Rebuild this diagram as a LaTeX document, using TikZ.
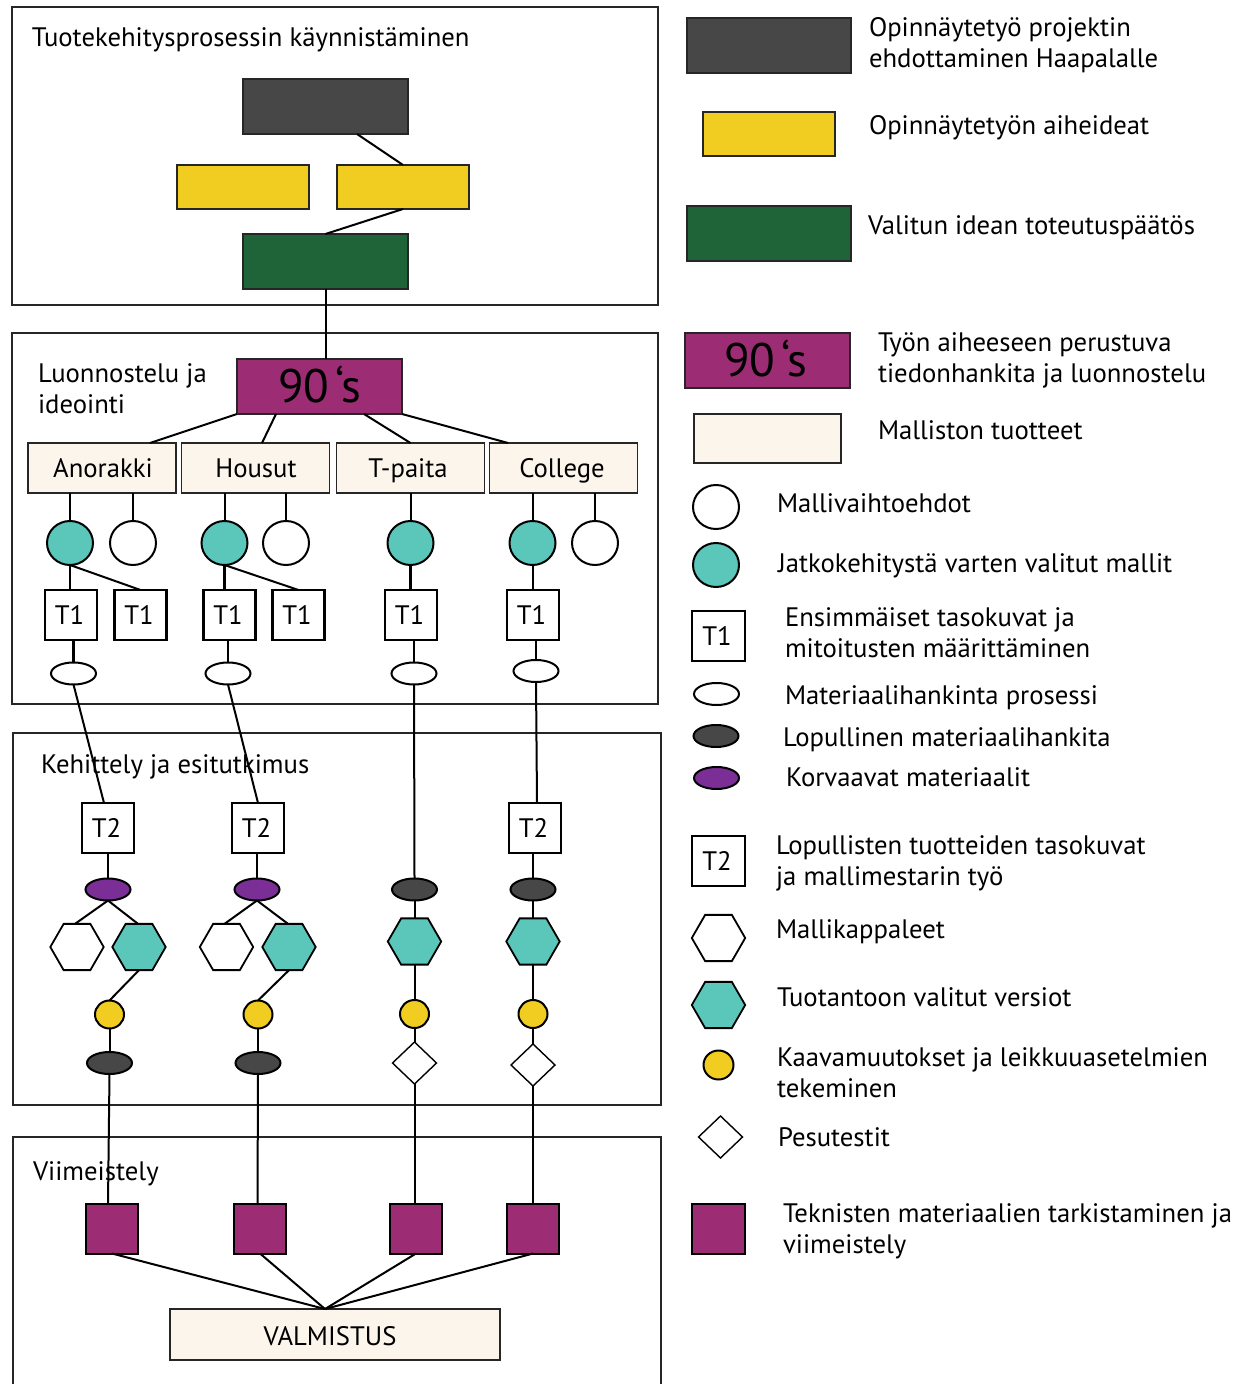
\documentclass[tikz,border=0pt]{standalone}
\usepackage{fontspec}
\setmainfont{PT Sans}
\usetikzlibrary{shapes.geometric}
\definecolor{cdark}{HTML}{474747}
\definecolor{cyel}{HTML}{F2CD21}
\definecolor{cgreen}{HTML}{1F6338}
\definecolor{cmag}{HTML}{9C2C73}
\definecolor{ccream}{HTML}{FCF5EC}
\definecolor{cteal}{HTML}{5AC7BA}
\definecolor{cpurp}{HTML}{7B2F96}
\tikzset{
 wh/.style 2 args={minimum width=#1*0.5pt,minimum height=#2*0.5pt},
 every node/.style={inner sep=0pt,outer sep=0pt},
 panel/.style={draw=black!85,line width=1pt,rectangle},
 bx/.style={draw=black!85,line width=0.8pt,rectangle},
 dbox/.style={bx,fill=cdark,wh={165}{55}},
 ybox/.style={bx,fill=cyel,wh={132}{44}},
 gbox/.style={bx,fill=cgreen,wh={165}{55}},
 mbox/.style={bx,fill=cmag,wh={165}{55}},
 cbox/.style={bx,fill=ccream,wh={148}{50},font=\lab},
 tbox/.style={draw=black,line width=1.4pt,fill=white,rectangle,wh={52}{50},font=\lab},
 sqm/.style={draw=black,line width=1pt,fill=cmag,rectangle,wh={52}{50}},
 circw/.style={draw=black,line width=1pt,ellipse,fill=white,wh={46}{44}},
 circt/.style={circw,fill=cteal},
 circy/.style={circw,fill=cyel,wh={29}{28}},
 ellw/.style={draw=black,line width=1pt,ellipse,fill=white,wh={45}{22}},
 elld/.style={ellw,fill=cdark},
 ellp/.style={ellw,fill=cpurp},
 hexw/.style={draw=black,line width=0.9pt,regular polygon,regular polygon sides=6,fill=white,minimum size=26.7pt},
 hext/.style={hexw,fill=cteal},
 diam/.style={draw=black,line width=0.7pt,diamond,fill=white,wh={44}{42}},
 lab/.style={anchor=base west,font=\lab},
 lab2/.style={anchor=base west,font=\lab,align=left},
 ctr/.style={anchor=base,font=\lab},
 big/.style={anchor=base,font=\fontsize{23.5}{26}\selectfont},
 conn/.style={draw=black,line width=1pt},
 conb/.style={draw=black,line width=1.4pt},
}
\newcommand{\lab}{\fontsize{13.35}{15.5}\selectfont}
\newcommand{\tl}[1]{#1\kern1.5pt}
\newcommand{\nineties}{90\kern0.13em ‘s}
\begin{document}
\begin{tikzpicture}[x=0.5pt,y=-0.5pt]
\clip (0,0) rectangle (1245,1384);
\fill[white] (0,0) rectangle (1245,1384);
% panels
\node[panel,wh={646}{298}] (p1) at (335,156) {};
\node[panel,wh={646}{371}] (p2) at (335,518.5) {};
\node[panel,wh={648}{372}] (p3) at (337,919) {};
\node[panel,wh={648}{270}] (p4) at (337,1272) {};
\node[lab] (tp1) at (32,47) {Tuotekehitysprosessin käynnistäminen};
\node[lab2] (tp2) at (38,414) {Luonnostelu ja\\ideointi};
\node[lab] (tp3) at (41,773) {Kehittely ja esitutkimus};
\node[lab] (tp4) at (33,1180) {Viimeistely};
% panel 1
\node[dbox] (a1) at (325.5,106.5) {};
\node[ybox] (a2) at (243,187) {};
\node[ybox] (a3) at (403,187) {};
\node[gbox] (a4) at (325.5,261.5) {};
% 90s
\node[mbox] (s0) at (319.5,386.5) {};
\node[big] (s0t) at (320,403) {\nineties};
% products
\node[cbox] (pa) at (102,468) {};
\node[cbox] (pb) at (255.5,468) {};
\node[cbox] (pc) at (410.5,468) {};
\node[cbox] (pd) at (563.5,468) {};
\node[ctr] (pat) at (103,478) {Anorakki};
\node[ctr] (pbt) at (256,478) {Housut};
\node[ctr] (pct) at (408,478) {T-paita};
\node[ctr] (pdt) at (562,478) {College};
% circles
\node[circt] (c1) at (70,543) {};
\node[circw] (c2) at (133,543) {};
\node[circt] (c3) at (224.5,543) {};
\node[circw] (c4) at (286,543) {};
\node[circt] (c5) at (410.5,543) {};
\node[circt] (c6) at (532.5,543) {};
\node[circw] (c7) at (595,543) {};
% T1
\node[tbox] (t1) at (71,615) {\tl{T1}};
\node[tbox] (t2) at (140.5,615) {\tl{T1}};
\node[tbox] (t3) at (229.5,615) {\tl{T1}};
\node[tbox] (t4) at (298.5,615) {\tl{T1}};
\node[tbox] (t5) at (411,615) {\tl{T1}};
\node[tbox] (t6) at (533,615) {\tl{T1}};
% ellipses
\node[ellw] (e1) at (73.5,673.5) {};
\node[ellw] (e2) at (228,673.5) {};
\node[ellw] (e3) at (414,673.5) {};
\node[ellw] (e4) at (536,671) {};
% T2
\node[tbox] (u1) at (108,828) {\tl{T2}};
\node[tbox] (u2) at (258,828) {\tl{T2}};
\node[tbox] (u4) at (535,828) {\tl{T2}};
% second row ellipses
\node[ellp] (f1) at (108,889.5) {};
\node[ellp] (f2) at (257,889.5) {};
\node[elld] (f3) at (414.5,889.5) {};
\node[elld] (f4) at (533,889.5) {};
% hexagons
\node[hexw] (h1) at (77,947) {};
\node[hext] (h2) at (139,947) {};
\node[hexw] (h3) at (226.5,947) {};
\node[hext] (h4) at (289,947) {};
\node[hext] (h5) at (414.5,941.5) {};
\node[hext] (h6) at (533,941.5) {};
% yellow
\node[circy] (y1) at (109.5,1014.5) {};
\node[circy] (y2) at (258,1014.5) {};
\node[circy] (y3) at (414.5,1014) {};
\node[circy] (y4) at (533,1014) {};
% bottom row
\node[elld] (g1) at (109.5,1063) {};
\node[elld] (g2) at (258,1063) {};
\node[diam] (d3) at (414.5,1063) {};
\node[diam] (d4) at (533,1065) {};
% squares
\node[sqm] (q1) at (112,1228.5) {};
\node[sqm] (q2) at (260,1228.5) {};
\node[sqm] (q3) at (416,1228.5) {};
\node[sqm] (q4) at (533,1228.5) {};
\node[bx,line width=1pt,fill=ccream,wh={330}{51}] (v) at (335,1334.5) {};
\node[ctr] (vt) at (330,1345) {VALMISTUS};
\coordinate (hub) at (325,1309);
% connectors
\draw[conn] ([xshift=15.75pt]a1.south) -- (a3.north);
\draw[conn] (a3.south) -- (a4.north);
\draw[conn] (a4.south) -- ([xshift=3pt]s0.north);
\draw[conn] (s0.south west) -- ([xshift=24pt]pa.north);
\draw[conn] ([xshift=-21.75pt]s0.south) -- ([xshift=3.25pt]pb.north);
\draw[conn] ([xshift=22.25pt]s0.south) -- (pc.north);
\draw[conn] (s0.south east) -- ([xshift=-27.75pt]pd.north);
\draw[conn] ([xshift=-16pt]pa.south) -- (c1.north);
\draw[conn] ([xshift=15.5pt]pa.south) -- (c2.north);
\draw[conn] ([xshift=-15.5pt]pb.south) -- (c3.north);
\draw[conn] ([xshift=15.25pt]pb.south) -- (c4.north);
\draw[conn] (pc.south) -- (c5.north);
\draw[conn] ([xshift=-15.5pt]pd.south) -- (c6.north);
\draw[conn] ([xshift=15.75pt]pd.south) -- (c7.north);
\draw[conb] (c1.south) -- (c1.south |- t1.north);
\draw[conn] (c1.south) -- (t2.north);
\draw[conb] (c3.south) -- (c3.south |- t3.north);
\draw[conn] (c3.south) -- (t4.north);
\draw[conb] (c5.south) -- (c5.south |- t5.north);
\draw[conn] (c6.south) -- (c6.south |- t6.north);
\draw[conb] (e1.north |- t1.south) -- (e1.north);
\draw[conb] (e2.north |- t3.south) -- (e2.north);
\draw[conb] (e3.north |- t5.south) -- (e3.north);
\draw[conn] (e4.north |- t6.south) -- (e4.north);
\draw[conn] (e1.south) -- ([xshift=-2pt]u1.north);
\draw[conn] (e2.south) -- (u2.north);
\draw[conn] (e3.south) -- (f3.north);
\draw[conn] (e4.south) -- ([xshift=1pt]u4.north);
\draw[conn] (u1.south) -- (f1.north);
\draw[conn] (f2.north |- u2.south) -- (f2.north);
\draw[conn] (f4.north |- u4.south) -- (f4.north);
\draw[conn] (f1.south) -- ([xshift=-1pt]h1.north);
\draw[conn] (f1.south) -- ([xshift=-0.5pt]h2.north);
\draw[conn] (f2.south) -- ([xshift=-1pt]h3.north);
\draw[conn] (f2.south) -- ([xshift=-0.5pt]h4.north);
\draw[conn] (f3.south) -- (h5.north);
\draw[conn] (f4.south) -- (h6.north);
\draw[conn] (h2.south) -- (y1.north);
\draw[conn] (h4.south) -- (y2.north);
\draw[conn] (h5.south) -- (y3.north);
\draw[conn] (h6.south) -- (y4.north);
\draw[conn] (y1.south) -- (g1.north);
\draw[conn] (y2.south) -- (g2.north);
\draw[conn] (y3.south) -- (d3.north);
\draw[conn] (y4.south) -- (d4.north);
\draw[conn] (g1.south) -- ([xshift=-2pt]q1.north);
\draw[conn] (g2.south) -- ([xshift=-1.25pt]q2.north);
\draw[conn] (d3.south) -- (d3.south |- q3.north);
\draw[conn] (d4.south) -- (d4.south |- q4.north);
\draw[conn] (q1.south) -- (hub);
\draw[conn] (q2.south) -- (hub);
\draw[conn] (q3.south) -- (hub);
\draw[conn] (q4.south) -- (hub);
% legend shapes
\node[dbox,wh={164}{55}] (k1) at (769,45.5) {};
\node[ybox] (k2) at (769,134) {};
\node[gbox,wh={164}{55}] (k3) at (769,233.5) {};
\node[mbox] (k4) at (767.5,360.5) {};
\node[big] (k4t) at (766,377) {\nineties};
\node[cbox,wh={147}{49}] (k5) at (767.5,438.5) {};
\node[circw] (k6) at (716,507) {};
\node[circt] (k7) at (716,565) {};
\node[tbox,wh={53}{50}] (k8) at (718.5,636) {\tl{T1}};
\node[ellw] (k9) at (716.5,694) {};
\node[elld] (k10) at (716,736) {};
\node[ellp] (k11) at (716.5,778) {};
\node[tbox,wh={53}{50}] (k12) at (718.5,861) {\tl{T2}};
\node[hexw] (k13) at (718.5,938) {};
\node[hext] (k14) at (718.5,1005) {};
\node[circy,wh={30}{29}] (k15) at (718.5,1065) {};
\node[diam] (k16) at (720.5,1137) {};
\node[sqm,wh={53}{50}] (k17) at (718.5,1229) {};
% legend text
\node[lab2] (l1) at (869,67.5) {Opinnäytetyö projektin\\ehdottaminen Haapalalle};
\node[lab] (l2) at (869,135) {Opinnäytetyön aiheideat};
\node[lab] (l3) at (868,235) {Valitun idean toteutuspäätös};
\node[lab2] (l4) at (878,383) {Työn aiheeseen perustuva\\tiedonhankita ja luonnostelu};
\node[lab] (l5) at (878,440) {Malliston tuotteet};
\node[lab] (l6) at (777,512) {Mallivaihtoehdot};
\node[lab] (l7) at (778,572) {Jatkokehitystä varten valitut mallit};
\node[lab2] (l8) at (785,657) {Ensimmäiset tasokuvat ja\\mitoitusten määrittäminen};
\node[lab] (l9) at (785,704) {Materiaalihankinta prosessi};
\node[lab] (l10) at (783,746) {Lopullinen materiaalihankita};
\node[lab] (l11) at (786,786) {Korvaavat materiaalit};
\node[lab2] (l12) at (776,885) {Lopullisten tuotteiden tasokuvat\\ja mallimestarin työ};
\node[lab] (l13) at (776,938) {Mallikappaleet};
\node[lab] (l14) at (777,1006) {Tuotantoon valitut versiot};
\node[lab2] (l15) at (777,1097.5) {Kaavamuutokset ja leikkuuasetelmien\\tekeminen};
\node[lab] (l16) at (778,1146) {Pesutestit};
\node[lab2] (l17) at (783,1253) {Teknisten materiaalien tarkistaminen ja\\viimeistely};
\end{tikzpicture}
\end{document}
